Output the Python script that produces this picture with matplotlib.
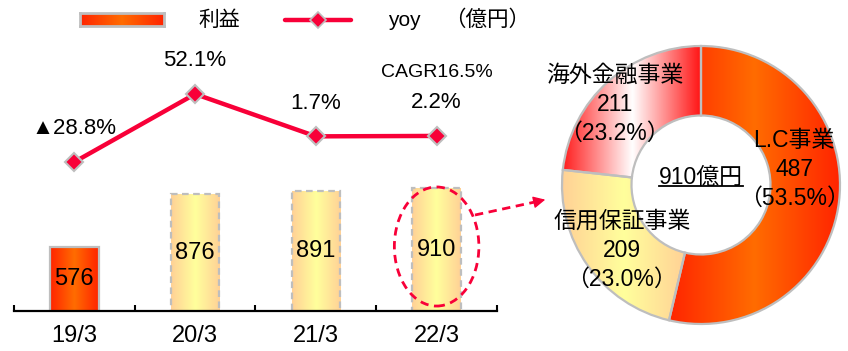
import numpy as np
import matplotlib
matplotlib.use("Agg")
from matplotlib import pyplot as plt
from matplotlib.colors import LinearSegmentedColormap
from matplotlib.patches import Ellipse, FancyArrowPatch
from matplotlib.lines import Line2D

plt.rcParams['font.family'] = ['Liberation Sans', 'Noto Sans CJK JP', 'DejaVu Sans']

# ---------------------------------------------------------------
# Data
# ---------------------------------------------------------------
periods = ["19/3", "20/3", "21/3", "22/3"]
profit = [576, 876, 891, 910]
yoy = [-28.8, 52.1, 1.7, 2.2]
yoy_labels = ["▲28.8%", "52.1%", "1.7%", "2.2%"]
cagr_label = "CAGR16.5%"

segments = ["L.C事業", "信用保証事業", "海外金融事業"]
segment_profit = [487, 209, 211]
segment_share = [53.5, 23.0, 23.2]
total_label = "910億円"

legend_bar = "利益"
legend_line = "yoy"
unit_label = "（億円）"

RED = "#F80038"
GRAY = "#BEBEBE"
ORANGE_GRAD = ["#FF2400", "#FF6C00", "#FF2400"]
YELLOW_GRAD = ["#FFD196", "#FFFF9C", "#FFD196"]
PINK_GRAD = ["#FF1E1E", "#FFFFFF", "#FF1010"]


def fill_gradient(ax, patch, colors, zorder, ymin=None):
    cmap = LinearSegmentedColormap.from_list("g", colors)
    ext = patch.get_path().transformed(patch.get_patch_transform()).get_extents()
    y0 = ext.y0 if ymin is None else max(ext.y0, ymin)
    grad = np.linspace(0, 1, 256).reshape(1, -1)
    im = ax.imshow(grad, cmap=cmap, aspect="auto", interpolation="bilinear",
                   extent=(ext.x0, ext.x1, y0, ext.y1), zorder=zorder)
    im.set_clip_path(patch)
    return im


W, H = 848, 351
fig = plt.figure(figsize=(W / 100, H / 100), dpi=100)

# ---------------------------------------------------------------
# Bar + line
# ---------------------------------------------------------------
ax = fig.add_axes([14 / W, (H - 311) / H, 483 / W, 271 / H])
ylo, yhi = 214, 1748
x = np.arange(len(periods))
bars = ax.bar(x, profit, width=0.4, facecolor="none", edgecolor=GRAY,
              linewidth=1.6, zorder=3)
for i, b in enumerate(bars):
    fill_gradient(ax, b, ORANGE_GRAD if i == 0 else YELLOW_GRAD, zorder=2, ymin=ylo)
    if i > 0:
        b.set_linestyle((0, (3, 2)))
    ax.text(i, (ylo + profit[i]) / 2, str(profit[i]), ha="center", va="center",
            fontsize=17, zorder=4)
ax.set_xlim(-0.5, 3.5)
ax.set_ylim(ylo, yhi)
for s in ["top", "left", "right"]:
    ax.spines[s].set_visible(False)
ax.spines["bottom"].set_linewidth(1.6)
ax.spines["bottom"].set_zorder(6)
ax.set_yticks([])
ax.set_xticks(x, periods, fontsize=17)
ax.set_xticks(np.arange(-0.5, 4, 1), minor=True)
ax.tick_params(axis="x", which="major", length=0, pad=10)
ax.tick_params(axis="x", which="minor", direction="in", length=4.5, width=1.5)

# highlight ellipse around last bar
ax.add_patch(Ellipse((3, 579), 0.70, 674, fill=False, edgecolor=RED,
                     linewidth=2, linestyle=(0, (3, 2)), clip_on=False, zorder=5))

ax2 = ax.twinx()
ax2.plot(x, yoy, color=RED, linewidth=3.2, marker="D", markersize=9,
         markerfacecolor=RED, markeredgecolor=GRAY, markeredgewidth=1.5)
ax2.set_ylim(-206.2, 116.4)
ax2.set_axis_off()
for i, lab in enumerate(yoy_labels):
    ax2.annotate(lab, (i, yoy[i]), xytext=(0, 24), textcoords="offset points",
                 ha="center", va="center", fontsize=16)
ax2.annotate(cagr_label, (3, yoy[3]), xytext=(0, 46), textcoords="offset points",
             ha="center", va="center", fontsize=14)

# dashed arrow to donut
p0 = (475 / W, 1 - 215 / H)
p1 = (535 / W, 1 - 202 / H)
p2 = (548 / W, 1 - 199 / H)
fig.add_artist(Line2D([p0[0], p1[0]], [p0[1], p1[1]], color=RED, linewidth=2,
                      linestyle=(0, (3, 2)), transform=fig.transFigure))
fig.add_artist(FancyArrowPatch(p1, p2, transform=fig.transFigure, arrowstyle="-|>",
                               mutation_scale=18, color=RED, linewidth=1))

# ---------------------------------------------------------------
# Donut
# ---------------------------------------------------------------
R = 139
ax3 = fig.add_axes([(701 - R) / W, (H - 185 - R) / H, 2 * R / W, 2 * R / H])
wedges, _ = ax3.pie(segment_profit, startangle=90, counterclock=False, radius=1,
                    wedgeprops=dict(width=0.5, edgecolor=GRAY, linewidth=1.6))
for w, g in zip(wedges, [ORANGE_GRAD, YELLOW_GRAD, PINK_GRAD]):
    w.set_facecolor("none")
    w.set_zorder(3)
    fill_gradient(ax3, w, g, zorder=2)
ax3.set_xlim(-1, 1)
ax3.set_ylim(-1, 1)
ax3.set_aspect("equal")
ax3.set_axis_off()

label_pos = [(0.67, 0.11), (-0.57, -0.47), (-0.62, 0.58)]
for (lx, ly), name, v, sh in zip(label_pos, segments, segment_profit, segment_share):
    ax3.text(lx, ly, f"{name}\n{v}\n（{sh:.1f}%）", ha="center", va="center",
             fontsize=16.5, linespacing=1.33, zorder=5)

ct = ax3.text(0, 0.058, total_label, ha="center", va="center", fontsize=16.5, zorder=5)
fig.canvas.draw()
bb = ct.get_window_extent().transformed(ax3.transData.inverted())
ax3.plot([bb.x0, bb.x1], [-0.005, -0.005], color="black", linewidth=1.3, zorder=5)

# ---------------------------------------------------------------
# Legend
# ---------------------------------------------------------------
lg = fig.add_axes([80 / W, (H - 26) / H, 84 / W, 13 / H])
lg.imshow(np.linspace(0, 1, 256).reshape(1, -1), aspect="auto",
          cmap=LinearSegmentedColormap.from_list("lg", ORANGE_GRAD))
lg.set_xticks([])
lg.set_yticks([])
for s in lg.spines.values():
    s.set_color(GRAY)
    s.set_linewidth(2)

ly = 1 - 20 / H
fig.text(219 / W, ly, legend_bar, ha="center", va="center", fontsize=15)
fig.add_artist(Line2D([285 / W, 351 / W], [ly, ly], color=RED, linewidth=3.2,
                      solid_capstyle="round", transform=fig.transFigure))
fig.add_artist(Line2D([318 / W], [ly], marker="D", markersize=8, color=RED,
                      markeredgecolor=GRAY, markeredgewidth=1.2,
                      transform=fig.transFigure))
fig.text(404 / W, ly, legend_line, ha="center", va="center", fontsize=15)
fig.text(487 / W, ly, unit_label, ha="center", va="center", fontsize=15.5)

fig.savefig("out.png", dpi=100)
